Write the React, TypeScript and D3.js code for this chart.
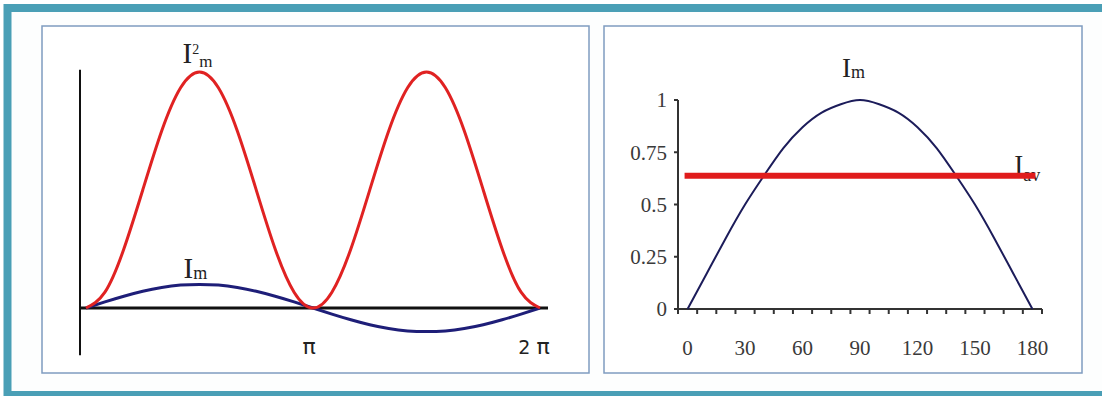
import React from 'react';
import * as d3 from 'd3';

// Left panel: phase angle in degrees, instantaneous current and its square (normalised)
const phaseDeg = [0, 15, 30, 45, 60, 75, 90, 105, 120, 135, 150, 165, 180, 195, 210, 225, 240, 255, 270, 285, 300, 315, 330, 345, 360];
const currentSquared = [0, 0.067, 0.25, 0.5, 0.75, 0.933, 1, 0.933, 0.75, 0.5, 0.25, 0.067, 0, 0.067, 0.25, 0.5, 0.75, 0.933, 1, 0.933, 0.75, 0.5, 0.25, 0.067, 0];
const current = [0, 0.026, 0.05, 0.071, 0.087, 0.097, 0.1, 0.097, 0.087, 0.071, 0.05, 0.026, 0, -0.026, -0.05, -0.071, -0.087, -0.097, -0.1, -0.097, -0.087, -0.071, -0.05, -0.026, 0];
const leftTicks = [{ deg: 180, num: '' }, { deg: 360, num: '2' }];

// Right panel: half wave, categories every 10 degrees
const halfDeg = [0, 10, 20, 30, 40, 50, 60, 70, 80, 90, 100, 110, 120, 130, 140, 150, 160, 170, 180];
const halfWave = [0, 0.17, 0.34, 0.5, 0.64, 0.77, 0.87, 0.94, 0.98, 1, 0.98, 0.94, 0.87, 0.77, 0.64, 0.5, 0.34, 0.17, 0];
const averageLevel = halfDeg.map(() => 0.637);
const rightYTicks = [0, 0.25, 0.5, 0.75, 1];
const rightXLabels = [0, 30, 60, 90, 120, 150, 180];

const serif = '"Liberation Serif", "Times New Roman", serif';
const sans = '"DejaVu Sans", sans-serif';

export default function App() {
  // left scales
  const lx = d3.scaleLinear().domain([0, 360]).range([86, 540]);
  const ly = d3.scaleLinear().domain([0, 1]).range([308, 72]);
  const leftPts = phaseDeg.map((d, i) => ({ d, sq: currentSquared[i], c: current[i] }));
  const sqLine = d3.line<any>().x(p => lx(p.d)).y(p => ly(p.sq)).curve(d3.curveNatural);
  const cLine = d3.line<any>().x(p => lx(p.d)).y(p => ly(p.c)).curve(d3.curveNatural);
  const axisX0 = 80;

  // right scales
  const rx = d3.scaleBand<number>().domain(halfDeg).range([678, 1042]).padding(0);
  const rcx = (d: number) => (rx(d) as number) + rx.bandwidth() / 2;
  const ry = d3.scaleLinear().domain([0, 1]).range([309, 100]);
  const wave = d3.line<number>().x((_, i) => rcx(halfDeg[i])).y(v => ry(v)).curve(d3.curveNatural);
  const flat = d3.line<number>().x((_, i) => rcx(halfDeg[i])).y(v => ry(v));
  const bandEdges = d3.range(halfDeg.length + 1).map(k => rx.range()[0] + k * rx.step());

  const peakL = lx(90);
  const peakR = rcx(90);

  return (
    <svg width={1102} height={396} style={{ position: 'absolute', left: 0, top: 0, background: '#fff' }}>
      {/* outer teal frame */}
      <rect x={7.5} y={8} width={1110} height={387} fill="#fdfefe" stroke="#4a9fb6" strokeWidth={8} />
      {/* panel boxes */}
      <rect x={42} y={26} width={547} height={347} fill="#fff" stroke="#7f9cc0" strokeWidth={1.5} />
      <rect x={604} y={26} width={478} height={347} fill="#fff" stroke="#7f9cc0" strokeWidth={1.5} />

      {/* ---- left panel ---- */}
      <line x1={axisX0} x2={axisX0} y1={ly(1.01)} y2={ly(-0.2)} stroke="#111" strokeWidth={2} />
      <line x1={axisX0} x2={lx(360) + 8} y1={ly(0)} y2={ly(0)} stroke="#111" strokeWidth={3} />
      <path d={cLine(leftPts) || ''} fill="none" stroke="#1e1e78" strokeWidth={3} />
      <path d={sqLine(leftPts) || ''} fill="none" stroke="#e02222" strokeWidth={3} />
      {leftTicks.map(t => (
        <text key={t.deg} x={lx(t.deg) - (t.num ? 6 : 4)} y={354} textAnchor="middle"
          fontFamily={sans} fill="#222">
          {t.num && <tspan fontSize={19}>{t.num} </tspan>}
          <tspan fontSize={22}>π</tspan>
        </text>
      ))}
      <g fill="#222" fontFamily={serif}>
        {/* I_m^2 label */}
        <text x={peakL - 17} y={63} fontSize={29}>
          I<tspan fontSize={14} dy={-9}>2</tspan><tspan fontSize={17} dy={13}>m</tspan>
        </text>
        {/* I_m label */}
        <text x={peakL - 16} y={ly(0.1) - 6} fontSize={29}>
          I<tspan fontSize={18} dy={1}>m</tspan>
        </text>
      </g>

      {/* ---- right panel ---- */}
      <line x1={678} x2={678} y1={ry(0)} y2={ry(1)} stroke="#333" strokeWidth={2} />
      {rightYTicks.map(t => (
        <g key={t}>
          <line x1={674} x2={678} y1={ry(t)} y2={ry(t)} stroke="#333" strokeWidth={2} />
          <text x={667} y={ry(t)} dy="0.35em" textAnchor="end" fontFamily={serif} fontSize={21} fill="#3a3a3a">{t}</text>
        </g>
      ))}
      <line x1={674} x2={1042} y1={ry(0)} y2={ry(0)} stroke="#333" strokeWidth={2} />
      {bandEdges.map((e, k) => (
        <line key={k} x1={e} x2={e} y1={ry(0)} y2={ry(0) + 5} stroke="#333" strokeWidth={2} />
      ))}
      {rightXLabels.map(d => (
        <text key={d} x={rcx(d)} y={355} textAnchor="middle" fontFamily={serif} fontSize={21} fill="#3a3a3a">{d}</text>
      ))}
      <path d={wave(halfWave) || ''} fill="none" stroke="#1c1c5a" strokeWidth={2} />
      <g fill="#222" fontFamily={serif}>
        <text x={peakR - 18} y={77} fontSize={27}>
          I<tspan fontSize={18} dy={1}>m</tspan>
        </text>
        <text x={rcx(170) + 1} y={174} fontSize={27}>
          I<tspan fontSize={18} dy={7}>av</tspan>
        </text>
      </g>
      <path d={flat(averageLevel) || ''} fill="none" stroke="#e01c1c" strokeWidth={6} strokeLinecap="square" />
    </svg>
  );
}
